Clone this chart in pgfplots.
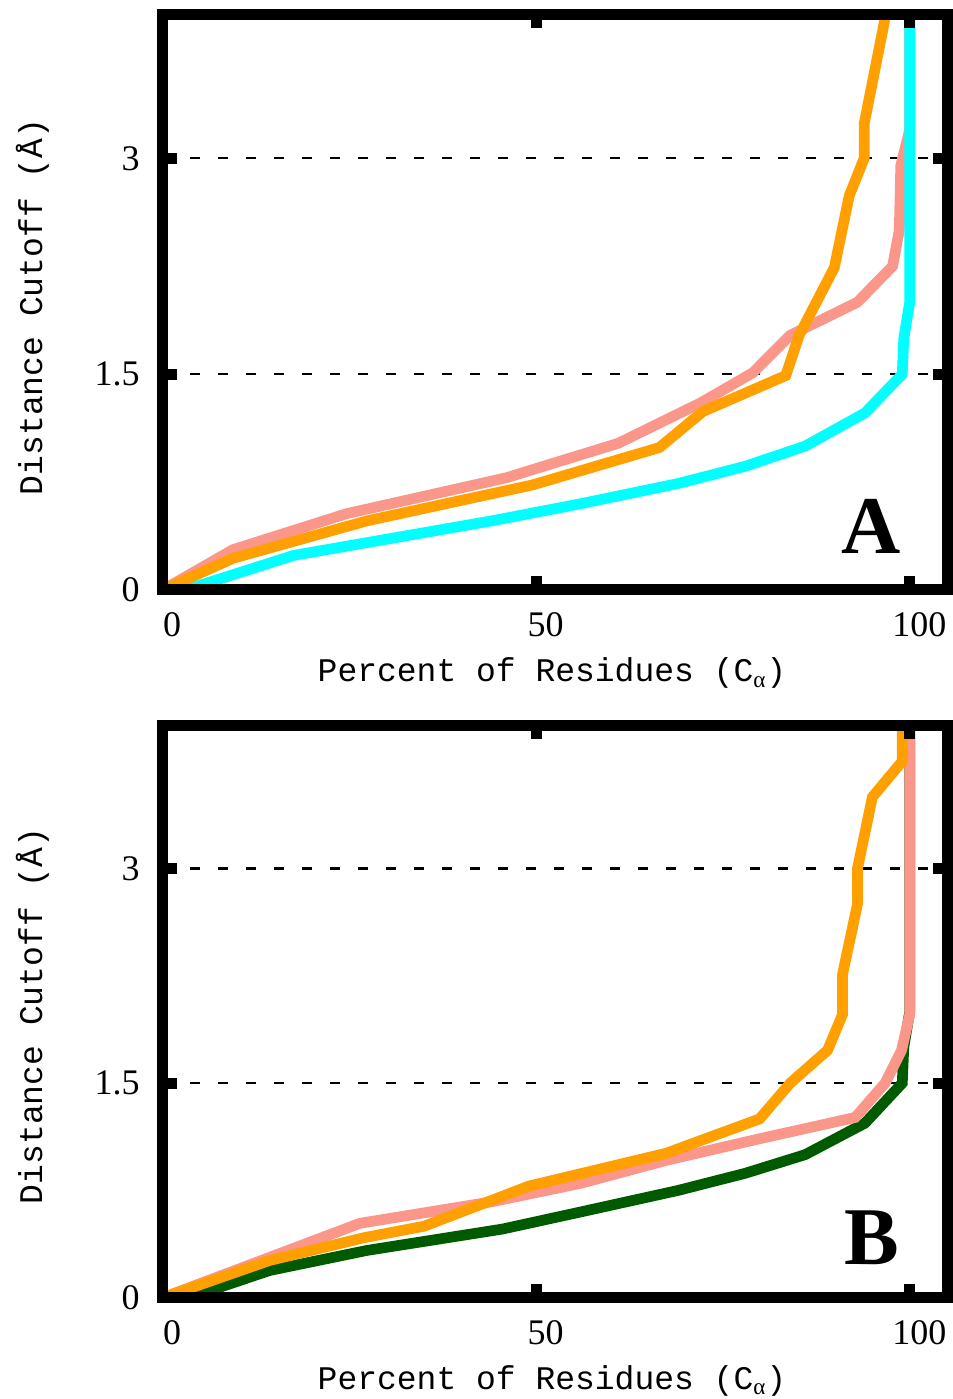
\documentclass[border=0pt]{standalone}
\usepackage{fontspec}
\setmainfont{Liberation Serif}
\newfontfamily\monofont{Liberation Mono}
\usepackage{pgfplots}
\pgfplotsset{compat=1.18}

\definecolor{refcyan}{RGB}{0,255,255}
\definecolor{refpink}{RGB}{250,150,138}
\definecolor{reforange}{RGB}{255,160,0}
\definecolor{refgreen}{RGB}{0,90,0}

\pgfplotsset{
  rmsdpanel/.style={
    scale only axis, width=392.2bp, height=287bp,
    xmin=0, xmax=105, ymin=0, ymax=4,
    xtick={0,50,100}, ytick={0,1.5,3},
    xticklabels={0,50,100}, yticklabels={0,1.5,3},
    axis on top,
    axis line style={line width=5.5bp},
    major tick length=7bp,
    every tick/.style={black, line width=5.5bp},
    tick align=inside,
    /pgf/number format/assume math mode=true,
    ticklabel style={font=\fontsize{18bp}{20bp}\selectfont},
    xticklabel style={anchor=center, yshift=-17.5bp, xshift=4.75bp},
    yticklabel style={anchor=east, inner sep=0pt, xshift=-11.35bp},
  },
  curve/.style={line width=5.35bp, no markers},
  cutoff/.style={black, line width=1.2bp, dash pattern=on 5bp off 9bp, dash phase=0.3bp, forget plot},
}
\tikzset{panellabel/.style={font=\rmfamily\bfseries\fontsize{41bp}{44bp}\selectfont, anchor=center}}
\newcommand{\labfont}{\monofont\fontsize{16.5bp}{18bp}\selectfont}

\begin{document}
\begin{tikzpicture}
\path[use as bounding box] (0,0) rectangle (476.5bp,699.5bp);

% ---- panel A ----
\begin{axis}[rmsdpanel, at={(81.35bp,404.5bp)}, anchor=south west, height=287.8bp]
\addplot[cutoff] coordinates {(0,1.5) (105,1.5)};
\addplot[cutoff] coordinates {(0,3) (105,3)};
\addplot[curve, refpink] coordinates {
 (0,0) (9.4,0.28) (24.6,0.53) (46,0.78) (61,1.02) (72,1.3) (79,1.51)
 (84,1.77) (93,2.0) (97.7,2.25) (98.6,2.5) (98.8,2.95) (100,3.2) (100,4)};
\addplot[curve, refcyan] coordinates {
 (3,0) (17.5,0.24) (44,0.48) (56,0.6) (69,0.74) (78,0.86)
 (86,1.0) (94,1.23) (99,1.5) (99.2,1.75) (100,2) (100,4)};
\addplot[curve, reforange] coordinates {
 (0,0) (9.4,0.22) (27.3,0.48) (49.5,0.73) (66.5,0.99) (72.3,1.24)
 (83.4,1.49) (85.2,1.77) (87.4,1.99) (89.9,2.24) (91.9,2.74) (93.9,3.0)
 (93.9,3.24) (96.8,4)};
\node[panellabel] at (axis cs:94.8,0.44) {A};
\end{axis}
\node[font=\labfont, rotate=90, anchor=base] at (21bp,546bp) {Distance Cutoff (Å)};
\node[font=\labfont, anchor=base] at (276bp,358.5bp) {Percent of Residues (C\textsubscript{\rmfamily α})};

% ---- panel B ----
\begin{axis}[rmsdpanel, at={(81.35bp,50.65bp)}, anchor=south west, height=286.1bp]
\addplot[cutoff] coordinates {(0,1.5) (105,1.5)};
\addplot[cutoff] coordinates {(0,3) (105,3)};
\addplot[curve, refgreen] coordinates {
 (3.5,0) (14.3,0.19) (27.3,0.33) (45.5,0.48) (56,0.6) (69,0.75) (78,0.87) (86,1.0)
 (94,1.22) (99,1.5) (99.2,1.75) (100,2) (100,4)};
\addplot[curve, refpink] coordinates {
 (0,0) (26.4,0.52) (44,0.67) (56,0.8) (67.4,0.96) (79.8,1.11)
 (92.7,1.26) (96.7,1.5) (98.9,1.73) (100,1.98) (100,4)};
\addplot[curve, reforange] coordinates {
 (0,0) (14.3,0.26) (27,0.42) (35,0.5) (49,0.78) (67.4,1.01) (79.9,1.25)
 (84,1.5) (89,1.73) (91,1.98) (91,2.26) (93,2.75) (93,3.0) (95,3.5)
 (99,3.75) (99,4)};
\node[panellabel] at (axis cs:94.9,0.42) {B};
\end{axis}
\node[font=\labfont, rotate=90, anchor=base] at (21bp,191.5bp) {Distance Cutoff (Å)};
\node[font=\labfont, anchor=base] at (276bp,5bp) {Percent of Residues (C\textsubscript{\rmfamily α})};
\end{tikzpicture}
\end{document}
